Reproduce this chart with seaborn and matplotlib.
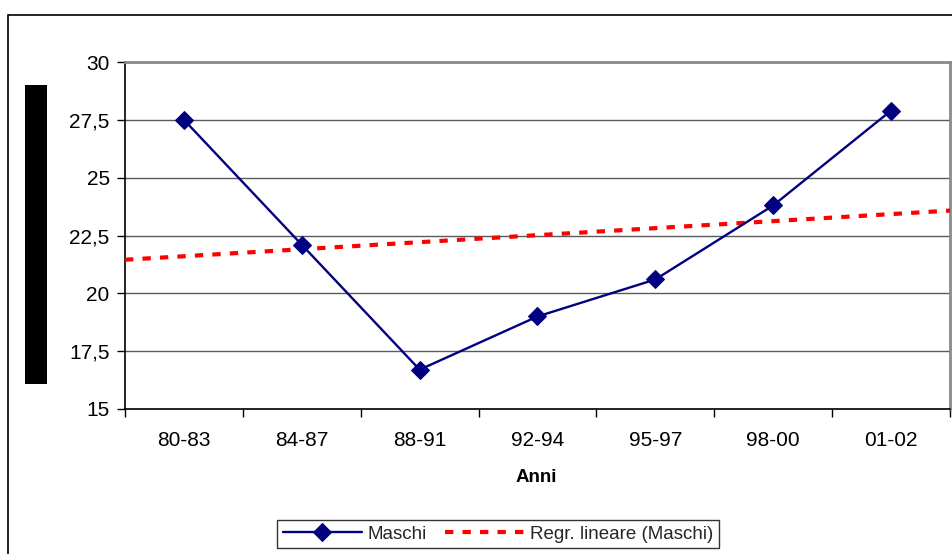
import numpy as np
import pandas as pd
import matplotlib
matplotlib.use("Agg")
import matplotlib.pyplot as plt
from matplotlib.patches import Rectangle
import seaborn as sns

# Periodi e valori medi della serie "Maschi"
periodi = ["80-83", "84-87", "88-91", "92-94", "95-97", "98-00", "01-02"]
maschi = [27.5, 22.1, 16.7, 19.0, 20.6, 23.8, 27.9]
y_ticks = [15, 17.5, 20, 22.5, 25, 27.5, 30]
y_labels = ["15", "17,5", "20", "22,5", "25", "27,5", "30"]

df = pd.DataFrame({"Periodo": periodi, "Maschi": maschi})

sns.set_theme(style="white")
plt.rcParams["font.family"] = ["Liberation Sans", "DejaVu Sans"]

W, H = 953, 554
fig = plt.figure(figsize=(W / 100, H / 100), dpi=100)
fig.patch.set_facecolor("white")

def fx(px):
    return px / W

def fy(py):
    return 1 - py / H

ax = fig.add_axes([fx(125), fy(409), fx(950) - fx(125), fy(62) - fy(409)])
ax.set_facecolor("white")

# Serie principale
sns.lineplot(data=df, x="Periodo", y="Maschi", ax=ax, color="#000080",
             linewidth=1.7, marker="D", markersize=9.5,
             markeredgecolor="#000080", markerfacecolor="#000080",
             label="Maschi", sort=False, zorder=4)

# Linea di tendenza lineare sull'intero asse
pos = np.arange(len(periodi))
slope, intercept = np.polyfit(pos, maschi, 1)
xr = np.array([-0.5, len(periodi) - 0.5])
ax.plot(xr, intercept + slope * xr, color="#FF0000", linewidth=3,
        linestyle=(0, (2.0, 2.2)), label="Regr. lineare (Maschi)", zorder=3)

ax.set_xlim(-0.5, len(periodi) - 0.5)
ax.set_ylim(15, 30)
ax.set_yticks(y_ticks)
ax.set_yticklabels(y_labels)
ax.yaxis.grid(True, color="#5a5a5a", linewidth=1.0)
ax.xaxis.grid(False)
ax.set_axisbelow(True)

# Etichette categorie centrate, tacche ai confini
ax.set_xticks(pos)
ax.set_xticklabels(periodi)
ax.set_xticks(np.arange(-0.5, len(periodi), 1), minor=True)
ax.tick_params(axis="x", which="major", length=0, pad=16, labelsize=15,
               labelcolor="black")
ax.tick_params(axis="x", which="minor", length=6, width=1, color="black",
               direction="out", bottom=True)
ax.tick_params(axis="y", which="major", length=6, width=1, color="black",
               direction="out", left=True, pad=5, labelsize=15,
               labelcolor="black")
ax.set_xlabel("")
ax.set_ylabel("")

for side in ["left", "bottom"]:
    ax.spines[side].set_color("black")
    ax.spines[side].set_linewidth(1.2)
for side in ["top", "right"]:
    ax.spines[side].set_visible(True)
    ax.spines[side].set_color("#8a8a8a")
    ax.spines[side].set_linewidth(2)

# Titolo asse X
fig.text(fx(536), fy(478), "Anni", ha="center", va="center",
         fontsize=13.5, fontweight="bold", color="black")

# Etichetta asse Y oscurata
fig.patches.append(Rectangle((fx(25), fy(384)), fx(47) - fx(25),
                             fy(85) - fy(384), transform=fig.transFigure,
                             facecolor="black", edgecolor="none"))

# Cornice del grafico
fig.patches.append(Rectangle((fx(8), fy(560)), fx(960) - fx(8),
                             fy(15) - fy(560), transform=fig.transFigure,
                             facecolor="none", edgecolor="black",
                             linewidth=1.2))

leg = ax.legend(loc="center", bbox_to_anchor=(fx(498), fy(534)),
                bbox_transform=fig.transFigure, ncol=2, fontsize=13.5,
                frameon=True, fancybox=False, edgecolor="black",
                handlelength=4.2, handletextpad=0.3, columnspacing=1.0,
                borderpad=0.3)
leg.get_frame().set_linewidth(1.0)

fig.savefig("out.png", dpi=100, facecolor="white")
